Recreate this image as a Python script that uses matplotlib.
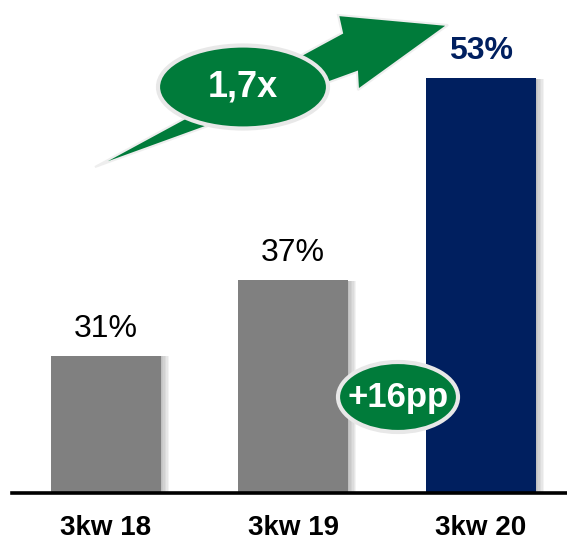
import matplotlib.pyplot as plt
import matplotlib.patheffects as pe
from matplotlib.patches import Ellipse, Polygon

plt.rcParams['font.family'] = ['Liberation Sans', 'DejaVu Sans']

# chart data
weeks = ['3kw 18', '3kw 19', '3kw 20']
shares = [31, 37, 53]
bar_colors = ['#808080', '#808080', '#001F5F']
label_colors = ['black', 'black', '#001F5F']
label_weights = ['normal', 'normal', 'bold']
growth_text = '1,7x'
delta_text = '+16pp'

W, H = 567, 541
fig = plt.figure(figsize=(W / 100, H / 100), dpi=100)
ax = fig.add_axes([12 / W, (H - 493) / H, 555 / W, 493 / H])

green = '#007B3A'

# soft shadow on the right side of the bars
shadow = [pe.SimplePatchShadow(offset=(i, -0.5), shadow_rgbFace='#555555', alpha=0.07)
          for i in range(1, 7)] + [pe.Normal()]

x = range(len(weeks))
bars = ax.bar(x, shares, width=0.587, color=bar_colors, bottom=0, zorder=2)
for b in bars:
    b.set_path_effects(shadow)

for xi, v, c, w in zip(x, shares, label_colors, label_weights):
    ax.annotate(f'{v}%', (xi, v), xytext=(0, 13.7), textcoords='offset points',
                ha='center', va='baseline', fontsize=23, color=c, fontweight=w)

ax.set_xlim(-0.499, 2.461)
ax.set_ylim(20.1, 59.2)
for s in ['top', 'right', 'left']:
    ax.spines[s].set_visible(False)
ax.spines['bottom'].set_linewidth(2.6)
ax.spines['bottom'].set_color('black')
ax.set_yticks([])
ax.set_xticks(list(x))
ax.set_xticklabels(weeks, fontsize=20, fontweight='bold')
ax.tick_params(axis='x', length=0, pad=16)


def fx(px):
    return px / W


def fy(py):
    return 1 - py / H


# growth arrow
arrow_pts = [(95, 167), (357, 72), (358, 90), (448, 25), (338, 15), (342, 33)]
arrow = Polygon([(fx(a), fy(b)) for a, b in arrow_pts], closed=True,
                transform=fig.transFigure, facecolor=green, edgecolor='#EEEEEE',
                linewidth=1.5, zorder=5)
fig.patches.append(arrow)

# ellipse labels
e1 = Ellipse((fx(243), fy(87)), 170 / W, 83 / H, transform=fig.transFigure,
             facecolor=green, edgecolor='#E8E8E8', linewidth=3, zorder=6)
fig.patches.append(e1)
fig.text(fx(243), fy(87), growth_text, ha='center', va='center', color='white',
         fontsize=26, fontweight='bold', zorder=7)

e2 = Ellipse((fx(398), fy(397)), 120 / W, 70 / H, transform=fig.transFigure,
             facecolor=green, edgecolor='#E8E8E8', linewidth=3, zorder=6)
fig.patches.append(e2)
fig.text(fx(398), fy(397), delta_text, ha='center', va='center', color='white',
         fontsize=25, fontweight='bold', zorder=7)

fig.savefig('out.png', dpi=100)
